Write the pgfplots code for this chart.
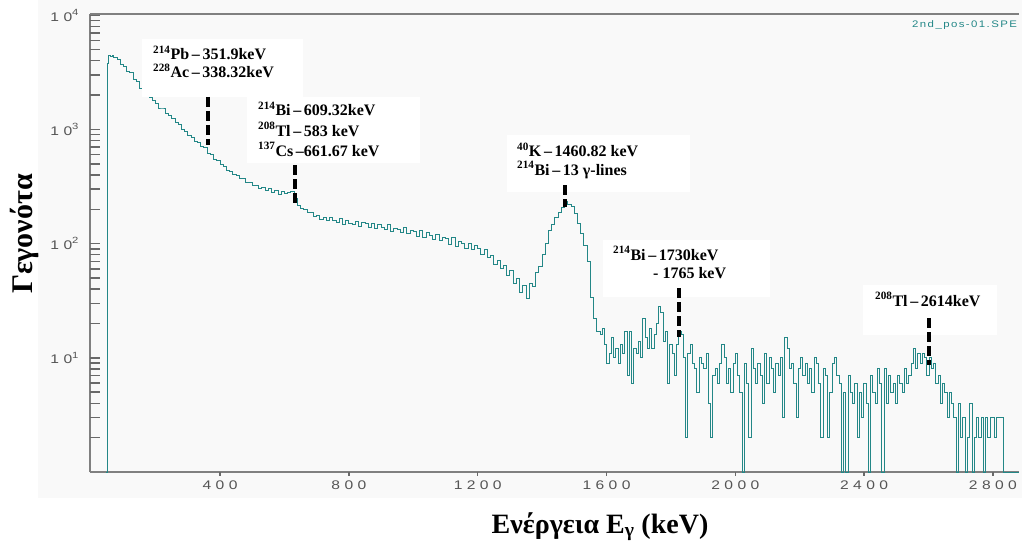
\documentclass[border=0pt]{standalone}
\usepackage{pgfplots}
\pgfplotsset{compat=1.18}
\usepackage{pgfplotstable}
\usepackage{fontspec}
\setmainfont{Liberation Serif}
\newfontfamily\tickfont[LetterSpace=35,FakeStretch=1.25]{Liberation Sans}
\newfontfamily\filefont[LetterSpace=15,FakeStretch=1.2]{Liberation Sans}
\definecolor{spec}{RGB}{35,135,135}
\definecolor{axgray}{RGB}{128,128,128}
\definecolor{tickc}{RGB}{105,105,105}
\definecolor{panel}{RGB}{249,249,249}
\definecolor{tickgray}{RGB}{85,85,85}
\newcommand\tsup[1]{\raisebox{0.45em}{\fontsize{9}{9}\selectfont #1}}

\pgfplotstableread{
E c
47 1
49 3800
55 4470
60 4380
65 4460
70 4280
80 4100
90 3720
100 3580
110 3230
120 3150
130 2760
140 2640
150 2300
160 2270
170 2060
180 1900
190 1790
200 1700
210 1540
220 1540
230 1380
240 1330
250 1250
260 1160
270 1100
280 1000
290 960
300 880
310 850
320 790
330 770
340 705
350 690
360 610
370 600
380 545
390 535
400 490
410 470
420 440
430 430
440 400
450 395
460 372
470 368
480 345
490 342
500 322
510 326
520 305
530 312
540 292
550 302
560 282
570 290
580 270
590 284
600 272
610 278
620 286
630 248
640 214
650 204
660 200
670 188
680 186
690 174
700 176
710 162
720 171
730 158
740 168
750 160
760 152
770 165
780 148
790 160
800 150
810 146
820 157
830 141
840 152
850 149
860 138
870 150
880 136
890 147
900 139
910 132
920 146
930 128
940 137
950 134
960 124
970 138
980 122
990 130
1000 127
1010 116
1020 131
1030 113
1040 124
1050 118
1060 108
1070 121
1080 106
1090 113
1100 110
1110 99
1120 112
1130 95
1140 104
1150 100
1160 91
1170 101
1180 88
1190 96
1200 90
1210 80
1220 88
1230 75
1240 78
1250 66
1260 71
1270 60
1280 64
1290 53
1300 58
1310 45
1320 49
1330 37
1340 43
1350 33
1360 45
1370 42
1380 56
1390 63
1400 80
1410 100
1420 130
1430 148
1440 170
1450 188
1460 208
1470 234
1480 222
1490 212
1500 182
1510 150
1520 122
1530 97
1540 70
1550 34
1560 22
1570 17
1580 16
1587 18
1594 13
1601 9
1608 11
1615 15
1622 10
1629 12
1636 9
1643 13
1650 11
1657 17
1664 7
1671 17
1678 6
1685 12
1692 11
1699 14
1706 10
1713 22
1720 15
1727 12
1734 18
1741 12
1748 16
1755 20
1762 28
1769 25
1776 14
1783 17
1790 6
1797 13
1804 11
1811 7
1818 13
1825 17
1832 16
1839 10
1846 2
1853 11
1860 13
1867 9
1874 8
1881 5
1888 10
1895 9
1902 8
1909 11
1916 4
1923 2
1930 7
1937 8
1944 6
1951 9
1958 13
1965 10
1972 6
1979 8
1986 5
1993 9
2000 11
2007 7
2014 5
2021 1
2028 9
2035 6
2042 2
2049 12
2056 8
2063 6
2070 9
2077 7
2084 4
2091 11
2098 6
2105 10
2112 8
2119 5
2126 9
2133 7
2140 10
2147 3
2154 15
2161 12
2168 8
2175 9
2182 6
2189 3
2196 8
2203 10
2210 7
2217 9
2224 6
2231 8
2238 5
2245 10
2252 9
2259 6
2266 2
2273 8
2280 7
2287 2
2294 5
2301 9
2308 10
2315 7
2322 6
2329 1
2336 5
2343 1
2350 7
2357 5
2364 4
2371 6
2378 2
2385 5
2392 3
2399 6
2406 4
2413 1
2420 7
2427 5
2434 4
2441 8
2448 6
2455 1
2462 8
2469 4
2476 7
2483 5
2490 6
2497 4
2504 7
2511 6
2518 5
2525 8
2532 6
2539 7
2546 9
2553 12
2560 8
2567 11
2574 9
2581 11
2588 10
2595 7
2602 10
2609 8
2616 9
2623 6
2630 7
2637 4
2644 6
2651 5
2658 3
2665 5
2672 4
2679 3
2686 1
2693 4
2700 2
2707 3
2714 1
2721 2
2728 4
2735 1
2742 2
2749 3
2756 2
2763 3
2770 1
2777 3
2784 2
2791 3
2798 3
2805 2
2812 3
2819 3
2826 3
2833 1
2881 1
}\spectrum

\begin{document}
\begin{tikzpicture}
\path[use as bounding box] (0pt,0pt) rectangle (1022pt,542pt);
\fill[panel] (38pt,44pt) rectangle (1022pt,542pt);
\begin{axis}[
  at={(90pt,70pt)}, anchor=south west,
  scale only axis, width=929pt, height=458pt,
  ymode=log, xmin=-4, xmax=2881, ymin=1, ymax=10250,
  axis x line*=bottom, axis y line*=left,
  axis line style={axgray, line width=1.6pt, -},
  ticklabel style={font=\tickfont\fontsize{12.5}{12.5}\selectfont, text=tickgray},
  clip=false,
  xtick={400,800,1200,1600,2000,2400,2800},
  xticklabels={400,800,1200,1600,2000,2400,2800},
  ytick={10,100,1000,10000},
  yticklabels={{10\tsup{1}},{10\tsup{2}},{10\tsup{3}},{10\tsup{4}}},
  yminorticks=false,
  major tick length=0pt,
  xticklabel style={yshift=-5pt},
  yticklabel style={xshift=-8pt},
]
\addplot[const plot mark left, spec, line width=1pt] table[x=E,y=c] {\spectrum};
\draw[axgray, line width=1.6pt] (rel axis cs:0,1) -- (rel axis cs:1,1);
\pgfplotsinvokeforeach{400,800,1200,1600,2000,2400,2800}{
  \draw[tickc, line width=1.4pt] (axis cs:#1,1) -- ++(0pt,-4pt);
}
\end{axis}
% inward tick marks of the log y axis (one decade = 458pt / log10(10250))
\foreach \v in {2,3,4,5,6,7,8,9,10,20,30,40,50,60,70,80,90,100,200,300,400,500,600,700,800,900,1000,2000,3000,4000,5000,6000,7000,8000,9000,10000}{
  \draw[tickc, line width=1.4pt] (90pt,{(70+114.19*log10(\v))*1pt}) -- ++(10pt,0pt);
}
% annotation boxes
\fill[white] (142pt,445pt) rectangle (303pt,503pt);
\fill[white] (247pt,379pt) rectangle (420pt,445pt);
\fill[white] (507pt,350pt) rectangle (690pt,407pt);
\fill[white] (603pt,245pt) rectangle (770pt,302pt);
\fill[white] (863pt,207pt) rectangle (997pt,257pt);
\begin{scope}[font=\bfseries\fontsize{16}{16}\selectfont]
\node[anchor=base west, inner sep=0] at (153pt,482pt) {\textsuperscript{214}Pb\,–\,351.9keV};
\node[anchor=base west, inner sep=0] at (153pt,464pt) {\textsuperscript{228}Ac\,–\,338.32keV};
\node[anchor=base west, inner sep=0] at (258pt,426pt) {\textsuperscript{214}Bi\,–\,609.32keV};
\node[anchor=base west, inner sep=0] at (258pt,406pt) {\textsuperscript{208}Tl\,–\,583 keV};
\node[anchor=base west, inner sep=0] at (258pt,386pt) {\textsuperscript{137}Cs\,–661.67 keV};
\node[anchor=base west, inner sep=0] at (517pt,385pt) {\textsuperscript{40}K\,–\,1460.82 keV};
\node[anchor=base west, inner sep=0] at (517pt,367pt) {\textsuperscript{214}Bi\,–\,13 γ-lines};
\node[anchor=base west, inner sep=0] at (613pt,282pt) {\textsuperscript{214}Bi\,–\,1730keV};
\node[anchor=base west, inner sep=0] at (653pt,264pt) {- 1765 keV};
\node[anchor=base west, inner sep=0] at (875pt,236pt) {\textsuperscript{208}Tl\,–\,2614keV};
\end{scope}
\begin{scope}[black, line width=3.5pt, dash pattern=on 10pt off 4pt]
\draw (208pt,445pt) -- (208pt,397pt);
\draw (295pt,377pt) -- (295pt,339pt);
\draw (565pt,357pt) -- (565pt,335pt);
\draw (679pt,254pt) -- (679pt,205pt);
\draw (929pt,224pt) -- (929pt,177pt);
\end{scope}
\node[anchor=base west, inner sep=0, font=\filefont\fontsize{9.5}{9.5}\selectfont, text=spec] at (912pt,514pt) {2nd\_pos-01.SPE};
\node[anchor=base, rotate=90, inner sep=0, font=\bfseries\fontsize{30}{30}\selectfont] at (32pt,308pt) {Γεγονότα};
\node[anchor=base, inner sep=0, font=\bfseries\fontsize{28}{28}\selectfont] at (600pt,9pt) {Ενέργεια E\textsubscript{γ} (keV)};
\end{tikzpicture}
\end{document}
